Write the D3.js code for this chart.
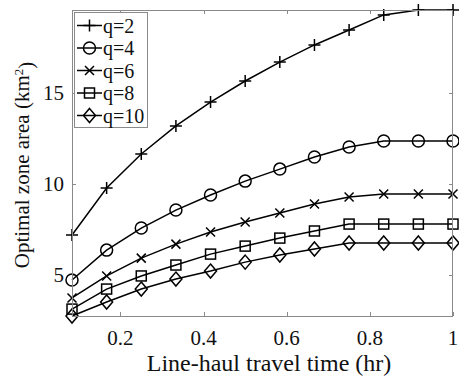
<!DOCTYPE html>
<html>
<head>
<meta charset="utf-8">
<script src="https://cdn.jsdelivr.net/npm/d3@7"></script>
<style>
  body { margin: 0; background: #fff; }
  svg text { font-family: "Liberation Serif", "Times New Roman", serif; fill: #111; }
</style>
</head>
<body>
<script>
// line-haul travel time (hr), 1/12 .. 12/12
var times = d3.range(1, 13).map(function(i) { return i / 12; });

var seriesNames = ["q=2", "q=4", "q=6", "q=8", "q=10"];
var markerTypes = ["plus", "circle", "cross", "square", "diamond"];

// optimal zone area (km^2)
var q2  = [7.2, 9.78, 11.65, 13.19, 14.5, 15.66, 16.7, 17.64, 18.46, 19.29, 19.56, 19.56];
var q4  = [4.73, 6.37, 7.58, 8.57, 9.4, 10.16, 10.82, 11.48, 12.03, 12.36, 12.36, 12.36];
var q6  = [3.74, 4.95, 5.93, 6.7, 7.36, 7.91, 8.41, 8.9, 9.29, 9.45, 9.45, 9.45];
var q8  = [3.13, 4.23, 4.95, 5.55, 6.15, 6.59, 7.03, 7.42, 7.8, 7.8, 7.8, 7.8];
var q10 = [2.75, 3.52, 4.23, 4.78, 5.22, 5.71, 6.1, 6.43, 6.76, 6.76, 6.76, 6.76];

var xTicks = [0.2, 0.4, 0.6, 0.8, 1];
var yTicks = [5, 10, 15];

var width = 459, height = 377;
var pad = { top: 10, bottom: 61, left: 72, right: 6 };

var allSeries = [q2, q4, q6, q8, q10].map(function(vals, i) {
  return { name: seriesNames[i], marker: markerTypes[i],
           points: vals.map(function(v, j) { return [times[j], v]; }) };
});

var svg = d3.select("body").append("svg")
            .attr("width", width)
            .attr("height", height);

var xScale = d3.scaleLinear()
               .domain([times[0], 1])
               .range([pad.left, width - pad.right]);
var yScale = d3.scaleLinear()
               .domain([2.75, 19.56])
               .range([height - pad.bottom, pad.top]);

var x0 = xScale.range()[0], x1 = xScale.range()[1];
var y0 = yScale.range()[0], y1 = yScale.range()[1];
var boxColour = "#8a8a8a";
var tickLen = 4;

// ticks (inside, on all four sides)
var ticksG = svg.append("g").attr("stroke", boxColour).attr("stroke-width", 1);
xTicks.forEach(function(t) {
  var x = Math.round(xScale(t)) + 0.5;
  ticksG.append("line").attr("x1", x).attr("x2", x).attr("y1", y0).attr("y2", y0 - tickLen);
  ticksG.append("line").attr("x1", x).attr("x2", x).attr("y1", y1).attr("y2", y1 + tickLen);
});
yTicks.forEach(function(t) {
  var y = Math.round(yScale(t)) + 0.5;
  ticksG.append("line").attr("x1", x0).attr("x2", x0 + tickLen).attr("y1", y).attr("y2", y);
  ticksG.append("line").attr("x1", x1).attr("x2", x1 - tickLen).attr("y1", y).attr("y2", y);
});

// tick labels
svg.append("g").selectAll("text")
   .data(xTicks).enter().append("text")
   .attr("x", function(d) { return xScale(d); })
   .attr("y", y0 + 29)
   .attr("text-anchor", "middle")
   .style("font-size", "21px")
   .text(function(d) { return d3.format("~g")(d); });

svg.append("g").selectAll("text")
   .data(yTicks).enter().append("text")
   .attr("x", x0 - 8)
   .attr("y", function(d) { return yScale(d); })
   .attr("dy", "0.35em")
   .attr("text-anchor", "end")
   .style("font-size", "21px")
   .text(function(d) { return d; });

// markers
const drawMarker = function(g, type, x, y) {
  if (type == "plus") {
    g.append("path").attr("d", "M" + (x - 6) + "," + y + "H" + (x + 6) + "M" + x + "," + (y - 6) + "V" + (y + 6));
  } else if (type == "circle") {
    g.append("circle").attr("cx", x).attr("cy", y).attr("r", 6);
  } else if (type == "cross") {
    g.append("path").attr("d", "M" + (x - 4.5) + "," + (y - 4.5) + "L" + (x + 4.5) + "," + (y + 4.5) +
                              "M" + (x - 4.5) + "," + (y + 4.5) + "L" + (x + 4.5) + "," + (y - 4.5));
  } else if (type == "square") {
    g.append("rect").attr("x", x - 5).attr("y", y - 5).attr("width", 10).attr("height", 10);
  } else {
    g.append("path").attr("d", "M" + x + "," + (y - 7) + "L" + (x + 6) + "," + y + "L" + x + "," + (y + 7) +
                              "L" + (x - 6) + "," + y + "Z");
  }
};

var line = d3.line()
             .x(function(d) { return xScale(d[0]); })
             .y(function(d) { return yScale(d[1]); });

allSeries.forEach(function(s) {
  var g = svg.append("g")
             .attr("fill", "none")
             .attr("stroke", "#000")
             .attr("stroke-width", 1.5);
  g.append("path").attr("d", line(s.points));
  s.points.forEach(function(p) {
    drawMarker(g, s.marker, xScale(p[0]), yScale(p[1]));
  });
});

// axes box (drawn over lines like MATLAB)
svg.append("rect")
   .attr("x", x0 + 0.5).attr("y", y1 + 0.5)
   .attr("width", x1 - x0 - 1).attr("height", y0 - y1)
   .attr("fill", "none")
   .attr("stroke", boxColour)
   .attr("stroke-width", 1);

// legend
var leg = svg.append("g").attr("transform", "translate(74,12)");
leg.append("rect")
   .attr("x", 0.5).attr("y", 0.5)
   .attr("width", 73).attr("height", 115)
   .attr("fill", "#fff")
   .attr("stroke", boxColour);

allSeries.forEach(function(s, i) {
  var y = 13.5 + i * 22.5;
  var g = leg.append("g")
             .attr("fill", "none")
             .attr("stroke", "#000")
             .attr("stroke-width", 1.5);
  g.append("line").attr("x1", 3).attr("x2", 28).attr("y1", y).attr("y2", y);
  drawMarker(g, s.marker, 15.5, y);
  leg.append("text")
     .attr("x", 29)
     .attr("y", y)
     .attr("dy", "0.35em")
     .style("font-size", "20px")
     .text(s.name);
});

// axis labels
svg.append("text")
   .attr("x", 269)
   .attr("y", 371)
   .attr("text-anchor", "middle")
   .style("font-size", "24px")
   .text("Line-haul travel time (hr)");

var yLab = svg.append("text")
   .attr("transform", "translate(29,165) rotate(-90)")
   .attr("text-anchor", "middle")
   .style("font-size", "21px");
yLab.append("tspan").text("Optimal zone area (km");
yLab.append("tspan").attr("dy", "-0.45em").style("font-size", "13px").text("2");
yLab.append("tspan").attr("dy", "0.45em").text(")");
</script>
</body>
</html>
